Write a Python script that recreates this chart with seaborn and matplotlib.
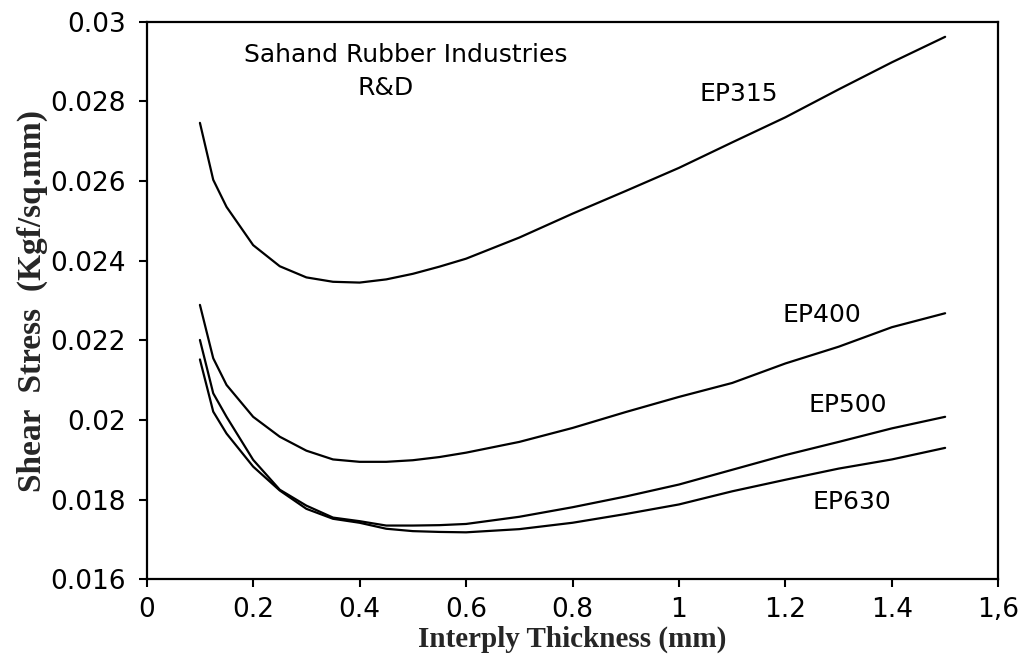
import numpy as np
import pandas as pd
import matplotlib
matplotlib.use("Agg")
import matplotlib.pyplot as plt
import seaborn as sns

# ---- data ----
thickness = [0.1, 0.125, 0.15, 0.2, 0.25, 0.3, 0.35, 0.4, 0.45, 0.5, 0.55,
             0.6, 0.7, 0.8, 0.9, 1.0, 1.1, 1.2, 1.3, 1.4, 1.5]
ep315 = [0.02746, 0.02603, 0.02535, 0.02439, 0.02386, 0.02358, 0.02347, 0.02345,
         0.02353, 0.02367, 0.02385, 0.02405, 0.02458, 0.02518, 0.02575, 0.02633,
         0.02697, 0.02760, 0.02830, 0.02898, 0.02962]
ep400 = [0.02289, 0.02155, 0.02088, 0.02008, 0.01958, 0.01923, 0.01901, 0.01895,
         0.01895, 0.01899, 0.01907, 0.01918, 0.01945, 0.01980, 0.02020, 0.02058,
         0.02093, 0.02142, 0.02184, 0.02233, 0.02268]
ep500 = [0.02201, 0.02067, 0.02008, 0.01900, 0.01825, 0.01785, 0.01755, 0.01746,
         0.01735, 0.01735, 0.01736, 0.01739, 0.01757, 0.01781, 0.01808, 0.01838,
         0.01875, 0.01912, 0.01945, 0.01979, 0.02008]
ep630 = [0.02152, 0.02021, 0.01966, 0.01883, 0.01823, 0.01777, 0.01752, 0.01742,
         0.01727, 0.01721, 0.01719, 0.01718, 0.01726, 0.01742, 0.01764, 0.01788,
         0.01821, 0.01850, 0.01878, 0.01901, 0.01930]
series_names = ["EP315", "EP400", "EP500", "EP630"]
label_x = [1.112, 1.268, 1.318, 1.324]
label_y = [0.02818, 0.02264, 0.02038, 0.01793]
x_ticks = [0, 0.2, 0.4, 0.6, 0.8, 1.0, 1.2, 1.4, 1.6]
x_tick_labels = ["0", "0.2", "0.4", "0.6", "0.8", "1", "1.2", "1.4", "1,6"]
y_ticks = [0.016, 0.018, 0.02, 0.022, 0.024, 0.026, 0.028, 0.03]
y_tick_labels = ["0.016", "0.018", "0.02", "0.022", "0.024", "0.026", "0.028", "0.03"]

frames = []
for name, vals in zip(series_names, [ep315, ep400, ep500, ep630]):
    frames.append(pd.DataFrame({"x": thickness, "y": vals, "series": name}))
df = pd.concat(frames, ignore_index=True)

sns.set_style("ticks")
plt.rcParams["font.family"] = ["DejaVu Sans"]

fig = plt.figure(figsize=(10.18, 6.59), dpi=100)
ax = fig.add_axes([0.1441, 0.1209, 0.9807 - 0.1441, 0.9671 - 0.1209])

sns.lineplot(data=df, x="x", y="y", hue="series",
             palette={n: "black" for n in series_names},
             legend=False, ax=ax, linewidth=1.6, sort=False, estimator=None)

ax.set_xlim(0, 1.6)
ax.set_ylim(0.016, 0.03)
ax.set_xticks(x_ticks)
ax.set_xticklabels(x_tick_labels)
ax.set_yticks(y_ticks)
ax.set_yticklabels(y_tick_labels)
ax.tick_params(axis="both", direction="out", length=6, width=1.5,
               labelsize=19, colors="black")
ax.tick_params(axis="y", pad=9)
ax.tick_params(axis="x", pad=7)

for sp in ax.spines.values():
    sp.set_visible(True)
    sp.set_color("black")
    sp.set_linewidth(1.6)

ax.set_xlabel("Interply Thickness (mm)", fontsize=21, fontweight="bold",
              family="Liberation Serif", labelpad=2)
ax.set_ylabel("Shear  Stress  (Kgf/sq.mm)", fontsize=24, fontweight="bold",
              family="Liberation Serif", labelpad=2)

for name, lx, ly in zip(series_names, label_x, label_y):
    ax.text(lx, ly, name, fontsize=18, ha="center", va="center", color="black")

ax.text(0.486, 0.02916, "Sahand Rubber Industries", fontsize=18,
        ha="center", va="center", color="black")
ax.text(0.448, 0.02834, "R&D", fontsize=18, ha="center", va="center", color="black")

fig.savefig("out.png", dpi=100)
